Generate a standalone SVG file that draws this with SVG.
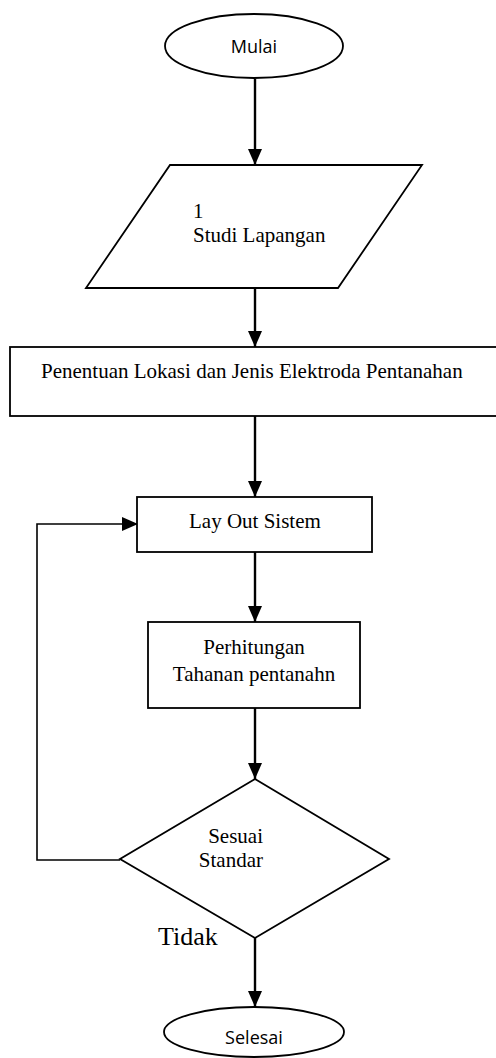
<svg xmlns="http://www.w3.org/2000/svg" width="496" height="1058" viewBox="0 0 496 1058">
<style>
.s{fill:#fff;stroke:#000;stroke-width:1.8}
.c{fill:none;stroke:#000;stroke-width:2.4}
.l{fill:none;stroke:#000;stroke-width:1.6}
.t{font-family:"Liberation Serif","Times New Roman",serif;font-size:21px;fill:#000}
.k{font-family:"Open Sans","Noto Sans",sans-serif;font-size:18px;fill:#000}
</style>
<defs>
<marker id="ah2" markerWidth="16" markerHeight="14" refX="16" refY="7" orient="auto" markerUnits="userSpaceOnUse" viewBox="0 0 16 14"><path d="M0,0 L16,7 L0,14 Z" fill="#000"/></marker>
</defs>
<g id="connectors">
<line class="c" x1="255" y1="79" x2="255" y2="165" marker-end="url(#ah2)"/>
<line class="c" x1="255" y1="288" x2="255" y2="347" marker-end="url(#ah2)"/>
<line class="c" x1="255" y1="416" x2="255" y2="497" marker-end="url(#ah2)"/>
<line class="c" x1="255" y1="552" x2="255" y2="622" marker-end="url(#ah2)"/>
<line class="c" x1="255" y1="708" x2="255" y2="779" marker-end="url(#ah2)"/>
<line class="c" x1="255" y1="938" x2="255" y2="1007" marker-end="url(#ah2)"/>
<polyline class="l" points="120,860 37,860 37,524 138,524" marker-end="url(#ah2)"/>
</g>
<g id="mulai">
<ellipse class="s" cx="254" cy="46" rx="89" ry="32"/>
<text class="k" x="254" y="53" text-anchor="middle">Mulai</text>
</g>
<g id="studi">
<polygon class="s" points="170,165 422,165 338,288 86,288"/>
<text class="t" x="193" y="218">1</text>
<text class="t" x="193" y="242">Studi Lapangan</text>
</g>
<g id="penentuan">
<rect class="s" x="10" y="347" width="490" height="69"/>
<text class="t" x="41" y="378">Penentuan Lokasi dan Jenis Elektroda Pentanahan</text>
</g>
<g id="layout">
<rect class="s" x="137" y="497" width="235" height="55"/>
<text class="t" x="189" y="528">Lay Out Sistem</text>
</g>
<g id="perhitungan">
<rect class="s" x="148" y="622" width="212" height="86"/>
<text class="t" x="254" y="654" text-anchor="middle">Perhitungan</text>
<text class="t" x="254" y="681" text-anchor="middle">Tahanan pentanahn</text>
</g>
<g id="sesuai">
<polygon class="s" points="255,779 389,859 255,938 120,859"/>
<text class="t" x="263" y="843" text-anchor="end">Sesuai</text>
<text class="t" x="263" y="867" text-anchor="end">Standar</text>
</g>
<g id="tidak">
<text class="t" x="158" y="945" style="font-size:26px">Tidak</text>
</g>
<g id="selesai">
<ellipse class="s" cx="254" cy="1032" rx="90" ry="25"/>
<text class="k" x="254" y="1044" text-anchor="middle">Selesai</text>
</g>
</svg>
